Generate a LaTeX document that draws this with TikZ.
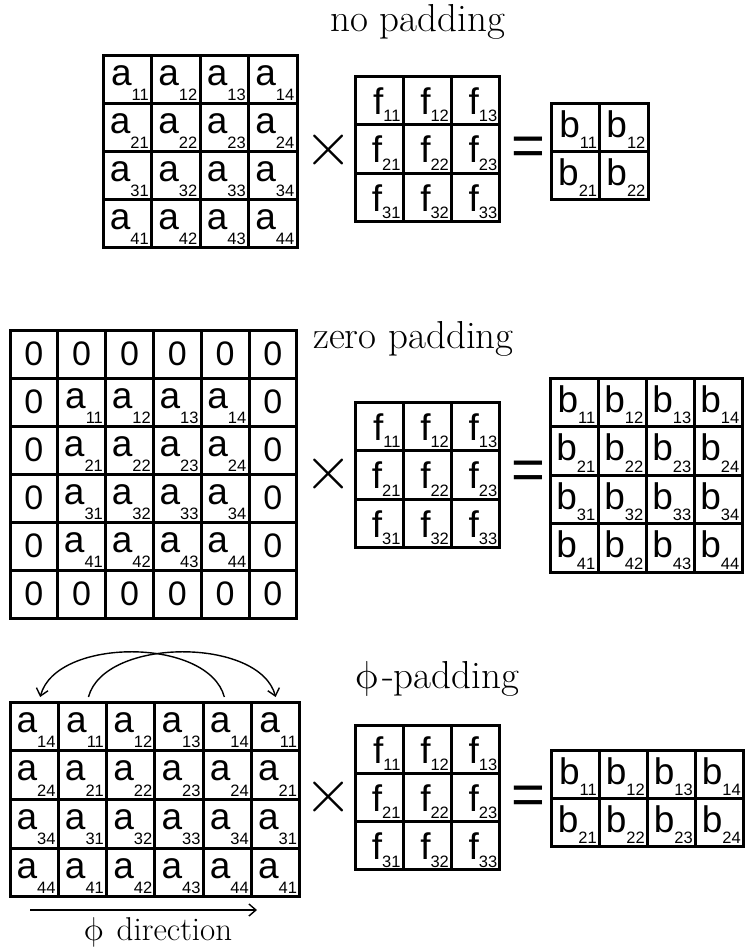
\documentclass[tikz,border=0pt]{standalone}
\usepackage{fontspec}
\newfontfamily\sansf{Liberation Sans}
\usetikzlibrary{calc,arrows.meta}
\tikzset{
  cellbox/.style={draw, line width=3pt, inner sep=0pt, outer sep=0pt},
  lettxt/.style={inner sep=0pt, anchor=base east, font=\sansf\fontsize{37}{37}\selectfont},
  zerotxt/.style={inner sep=0pt, font=\sansf\fontsize{34}{34}\selectfont},
  titletxt/.style={inner sep=0pt, anchor=base west, font=\fontsize{39}{39}\selectfont},
  eqtxt/.style={inner sep=0pt, font=\sansf\fontsize{58}{58}\selectfont},
  timestxt/.style={inner sep=0pt},
  arcarrow/.style={line width=1.4pt, -{Straight Barb[length=7pt,width=12pt]}},
}
% grid of cells: name, x0, y0, cols, rows, cell width, cell height
\newcommand\cellgrid[7]{%
  \foreach \rr in {1,...,#5}{\foreach \cc in {1,...,#4}{%
    \node[cellbox, minimum width=#6pt, minimum height=#7pt] (#1-\rr-\cc)
      at ({#2+(\cc-0.5)*#6},{#3+(\rr-0.5)*#7}) {};}}}
% label: cell name, letter, subscript, letter baseline below cell top
\newcommand\putlab[4]{%
  \pgfmathsetmacro\dropamt{45.5-#4}%
  \node[lettxt] (#1-t) at ($(#1.north east)+(-2.5,#4)$)
    {#2\raisebox{-\dropamt pt}{\fontsize{16.5}{16.5}\selectfont #3}};}
% upright phi, scaled: #1 = scale factor
\newcommand\upphisym[1]{\tikz[baseline=0pt]\node[inner sep=0pt,anchor=base,xslant=-0.25,scale=#1,transform shape]{\normalsize$\phi$};}
\newcommand\bigtimes{\tikz[baseline=0pt]\node[inner sep=0pt,scale=6.2,transform shape]{\normalsize$\times$};}
\begin{document}
\begin{tikzpicture}[x=1pt,y=-1pt]
\useasboundingbox (0,0) rectangle (745,951);
% ---------------- no padding ----------------
\node[titletxt] (t1) at (330,31) {no padding};
\cellgrid{A1}{103}{55}{4}{4}{48.5}{48}
\foreach \r in {1,...,4}{\foreach \c in {1,...,4}{\putlab{A1-\r-\c}{a}{\r\c}{30}}}
\node[timestxt] (x1) at (329,150) {\bigtimes};
\cellgrid{F1}{355}{76}{3}{3}{48.3}{48.5}
\foreach \r in {1,...,3}{\foreach \c in {1,...,3}{\putlab{F1-\r-\c}{f}{\r\c}{38}}}
\node[eqtxt] (e1) at (528,151) {=};
\cellgrid{B1}{551.5}{103}{2}{2}{48.3}{48.2}
\foreach \r in {1,...,2}{\foreach \c in {1,...,2}{\putlab{B1-\r-\c}{b}{\r\c}{34}}}
% ---------------- zero padding ----------------
\node[titletxt] (t2) at (313,348) {zero padding};
\cellgrid{A2}{10}{330}{6}{6}{47.8}{48}
\foreach \r in {1,...,6}{\foreach \c in {1,...,6}{%
  \pgfmathtruncatemacro\isin{(\r>1)&&(\r<6)&&(\c>1)&&(\c<6)}%
  \ifnum\isin=1
    \pgfmathtruncatemacro\rs{\r-1}\pgfmathtruncatemacro\cs{\c-1}%
    \putlab{A2-\r-\c}{a}{\rs\cs}{30}
  \else
    \node[zerotxt] (A2-\r-\c-t) at (A2-\r-\c) {0};
  \fi}}
\node[timestxt] (x2) at (329,474) {\bigtimes};
\cellgrid{F2}{355}{402}{3}{3}{48.3}{48.5}
\foreach \r in {1,...,3}{\foreach \c in {1,...,3}{\putlab{F2-\r-\c}{f}{\r\c}{38}}}
\node[eqtxt] (e2) at (528,475) {=};
\cellgrid{B2}{550}{378}{4}{4}{48}{48.5}
\foreach \r in {1,...,4}{\foreach \c in {1,...,4}{\putlab{B2-\r-\c}{b}{\r\c}{34}}}
% ---------------- phi padding ----------------
\node[titletxt] (t3) at (350,688) {\upphisym{3.9}-padding};
\cellgrid{A3}{10}{702}{6}{4}{48.3}{48.7}
\foreach \r in {1,...,4}{\foreach \c in {1,...,6}{%
  \pgfmathtruncatemacro\cs{\c==1 ? 4 : (\c==6 ? 1 : \c-1)}%
  \putlab{A3-\r-\c}{a}{\r\cs}{30}}}
\node[timestxt] (x3) at (329,797) {\bigtimes};
\cellgrid{F3}{355}{725}{3}{3}{48.3}{48.3}
\foreach \r in {1,...,3}{\foreach \c in {1,...,3}{\putlab{F3-\r-\c}{f}{\r\c}{38}}}
\node[eqtxt] (e3) at (528,800) {=};
\cellgrid{B3}{551.5}{750}{4}{2}{48}{48.3}
\foreach \r in {1,...,2}{\foreach \c in {1,...,4}{\putlab{B3-\r-\c}{b}{\r\c}{34}}}
% wrap arrows
\coordinate (s1) at ($(A3-1-2.north)+(6,-5)$);
\coordinate (f1) at ($(A3-1-6.north)+(0,-5)$);
\draw[arcarrow] (s1) .. controls ($(s1)+(16,-60)$) and ($(f1)+(-16,-60)$) .. (f1);
\coordinate (s2) at ($(A3-1-5.north)+(-3,-5)$);
\coordinate (f2) at ($(A3-1-1.north)+(6,-5)$);
\draw[arcarrow] (s2) .. controls ($(s2)+(-16,-60)$) and ($(f2)+(16,-60)$) .. (f2);
% direction arrow
\coordinate (d0) at (30,910);
\coordinate (d1) at (257,910);
\draw[arcarrow] (d0) -- (d1);
\node[inner sep=0pt, anchor=base, font=\fontsize{33}{33}\selectfont] (t4) at (156,940) {\upphisym{3.3}\ direction};
\end{tikzpicture}
\end{document}
